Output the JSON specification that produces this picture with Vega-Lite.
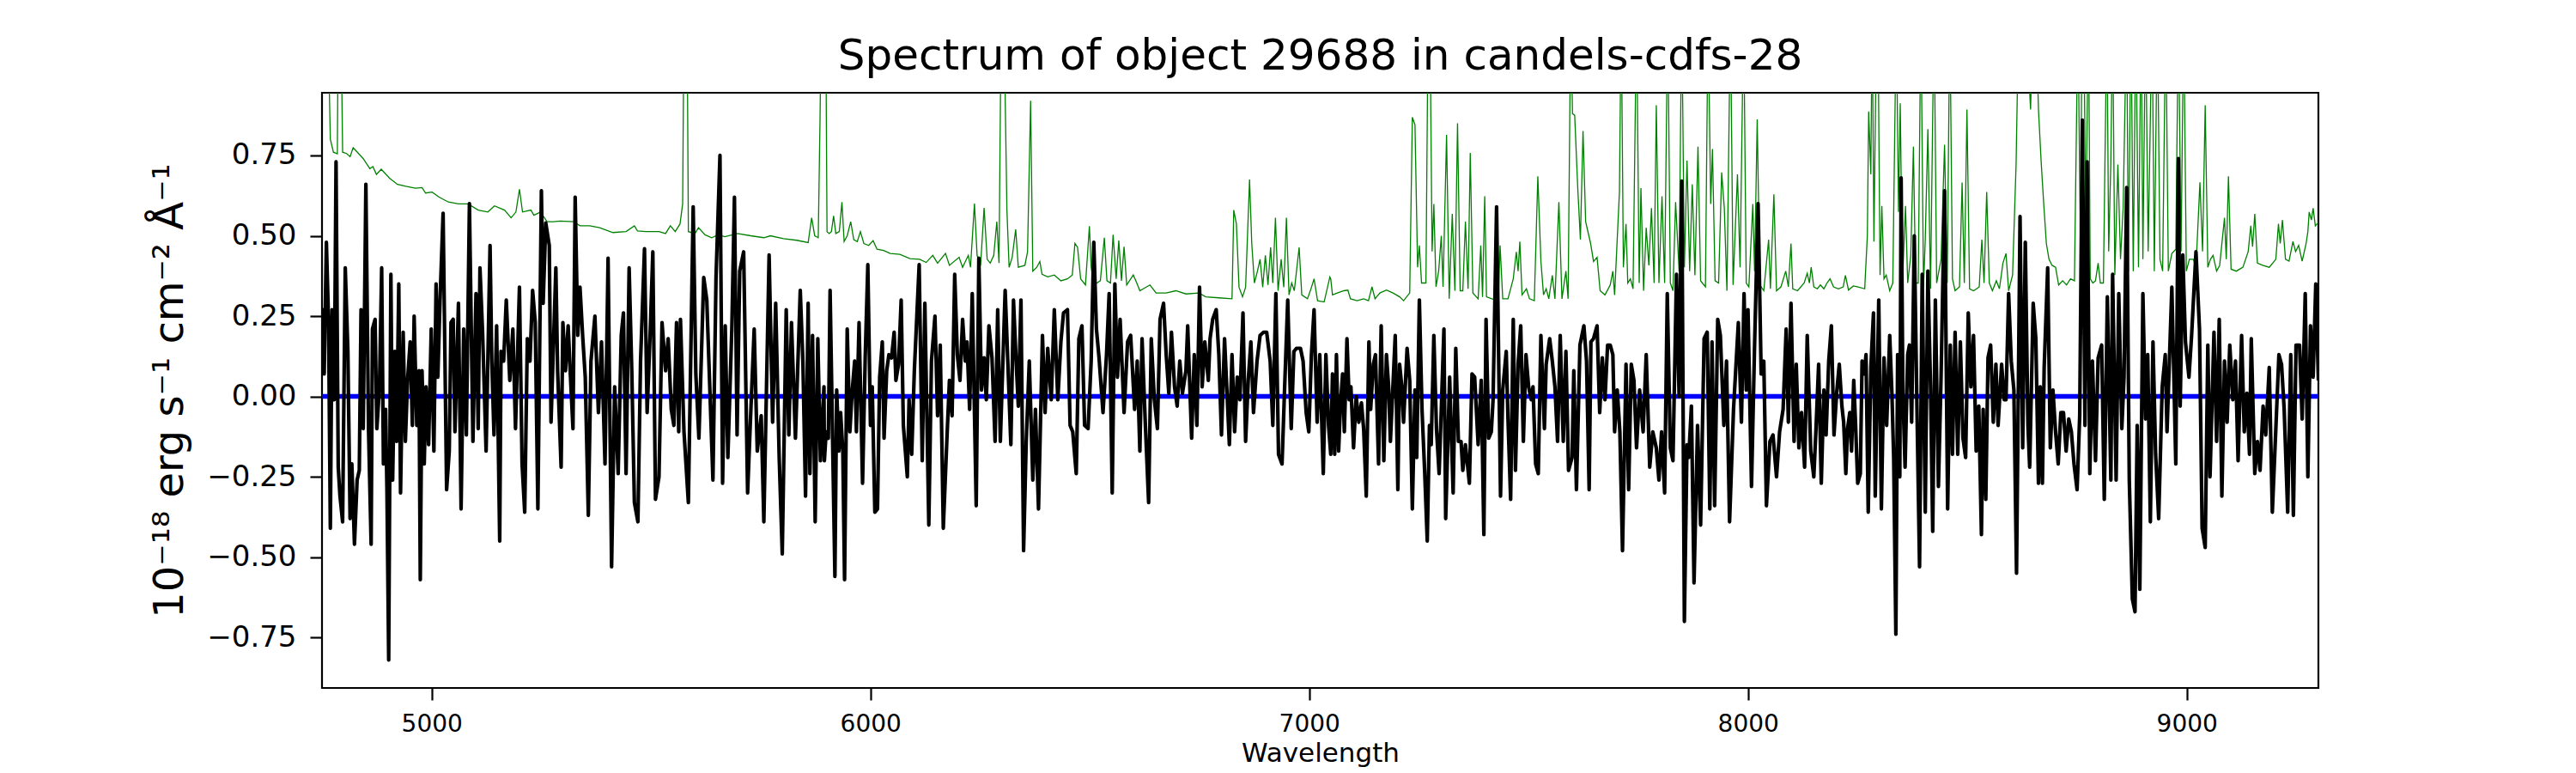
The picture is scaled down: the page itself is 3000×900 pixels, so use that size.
{
  "$schema": "https://vega.github.io/schema/vega-lite/v6.json",
  "width": 2325,
  "height": 693,
  "autosize": {"type": "none"},
  "padding": {"left": 375, "top": 108, "right": 300, "bottom": 99},
  "background": "white",
  "title": {
    "text": "Spectrum of object 29688 in candels-cdfs-28",
    "fontSize": 50,
    "font": "DejaVu Sans",
    "fontWeight": "normal",
    "color": "black",
    "anchor": "middle",
    "frame": "group",
    "baseline": "alphabetic",
    "offset": 25,
    "dy": 48
  },
  "config": {
    "font": "DejaVu Sans",
    "view": {"stroke": "black", "strokeWidth": 2.2},
    "axis": {
      "domain": false,
      "grid": false,
      "ticks": true,
      "tickColor": "black",
      "tickWidth": 2.2,
      "labelColor": "black",
      "titleColor": "black",
      "labelFont": "DejaVu Sans",
      "titleFont": "DejaVu Sans",
      "titleFontWeight": "normal",
      "labelFlush": false,
      "labelOverlap": false
    }
  },
  "datasets": {
    "model": [{"w": 4750, "v": 0}, {"w": 9300, "v": 0}],
    "sky": [
      {"w":4750,"v":1.2},{"w":4763,"v":1.2},{"w":4769,"v":0.80},{"w":4776,"v":0.76},{"w":4785,"v":0.755},{"w":4787,"v":1.2},{"w":4793,"v":1.2},{"w":4797,"v":0.76},{"w":4806,"v":0.756},{"w":4814,"v":0.746},{"w":4821,"v":0.774},{"w":4832,"v":0.758},{"w":4844,"v":0.74},{"w":4859,"v":0.709},{"w":4866,"v":0.715},{"w":4874,"v":0.691},{"w":4885,"v":0.707},{"w":4904,"v":0.679},{"w":4922,"v":0.66},{"w":4941,"v":0.654},{"w":4963,"v":0.648},{"w":4978,"v":0.65},{"w":4986,"v":0.633},{"w":5001,"v":0.636},{"w":5016,"v":0.621},{"w":5038,"v":0.605},{"w":5061,"v":0.599},{"w":5083,"v":0.599},{"w":5106,"v":0.58},{"w":5128,"v":0.574},{"w":5143,"v":0.593},{"w":5166,"v":0.58},{"w":5181,"v":0.556},{"w":5192,"v":0.574},{"w":5200,"v":0.645},{"w":5207,"v":0.574},{"w":5226,"v":0.58},{"w":5233,"v":0.564},{"w":5248,"v":0.574},{"w":5263,"v":0.544},{"w":5278,"v":0.544},{"w":5293,"v":0.546},{"w":5323,"v":0.544},{"w":5338,"v":0.531},{"w":5360,"v":0.531},{"w":5383,"v":0.525},{"w":5413,"v":0.51},{"w":5443,"v":0.513},{"w":5462,"v":0.531},{"w":5469,"v":0.515},{"w":5488,"v":0.513},{"w":5518,"v":0.513},{"w":5533,"v":0.507},{"w":5544,"v":0.531},{"w":5555,"v":0.513},{"w":5566,"v":0.537},{"w":5572,"v":0.60},{"w":5575,"v":1.2},{"w":5582,"v":1.2},{"w":5585,"v":0.513},{"w":5600,"v":0.507},{"w":5608,"v":0.525},{"w":5623,"v":0.503},{"w":5638,"v":0.494},{"w":5653,"v":0.503},{"w":5668,"v":0.497},{"w":5697,"v":0.507},{"w":5727,"v":0.50},{"w":5757,"v":0.494},{"w":5772,"v":0.50},{"w":5802,"v":0.491},{"w":5832,"v":0.486},{"w":5858,"v":0.479},{"w":5866,"v":0.556},{"w":5873,"v":0.50},{"w":5881,"v":0.494},{"w":5885,"v":0.856},{"w":5888,"v":1.2},{"w":5898,"v":1.2},
      {"w":5901,"v":0.513},{"w":5906,"v":0.507},{"w":5911,"v":0.513},{"w":5916,"v":0.562},{"w":5921,"v":0.507},{"w":5929,"v":0.513},{"w":5935,"v":0.605},{"w":5940,"v":0.482},{"w":5947,"v":0.50},{"w":5955,"v":0.544},{"w":5962,"v":0.488},{"w":5970,"v":0.482},{"w":5977,"v":0.513},{"w":5985,"v":0.476},{"w":5996,"v":0.47},{"w":6006,"v":0.485},{"w":6015,"v":0.458},{"w":6030,"v":0.454},{"w":6045,"v":0.445},{"w":6067,"v":0.442},{"w":6090,"v":0.429},{"w":6112,"v":0.427},{"w":6127,"v":0.417},{"w":6142,"v":0.439},{"w":6153,"v":0.415},{"w":6171,"v":0.445},{"w":6180,"v":0.408},{"w":6202,"v":0.433},{"w":6210,"v":0.402},{"w":6223,"v":0.439},{"w":6228,"v":0.402},{"w":6237,"v":0.60},{"w":6243,"v":0.439},{"w":6251,"v":0.408},{"w":6259,"v":0.587},{"w":6266,"v":0.427},{"w":6273,"v":0.415},{"w":6281,"v":0.439},{"w":6288,"v":0.544},{"w":6293,"v":0.415},{"w":6298,"v":1.2},{"w":6304,"v":1.2},{"w":6311,"v":0.58},{"w":6316,"v":0.402},{"w":6323,"v":0.433},{"w":6331,"v":0.52},{"w":6337,"v":0.402},{"w":6352,"v":0.408},{"w":6358,"v":0.45},{"w":6365,"v":0.92},{"w":6370,"v":0.39},{"w":6379,"v":0.402},{"w":6386,"v":0.42},{"w":6391,"v":0.38},{"w":6404,"v":0.372},{"w":6419,"v":0.378},{"w":6434,"v":0.36},{"w":6449,"v":0.366},{"w":6460,"v":0.378},{"w":6466,"v":0.476},{"w":6472,"v":0.464},{"w":6479,"v":0.366},{"w":6490,"v":0.347},{"w":6499,"v":0.53},{"w":6503,"v":0.402},{"w":6509,"v":0.347},{"w":6524,"v":0.36},{"w":6533,"v":0.494},{"w":6539,"v":0.36},{"w":6547,"v":0.353},{"w":6553,"v":0.503},{"w":6560,"v":0.366},{"w":6566,"v":0.485},{"w":6572,"v":0.36},{"w":6578,"v":0.466},{"w":6584,"v":0.347},{"w":6599,"v":0.378},{"w":6607,"v":0.353},{"w":6614,"v":0.329},{"w":6637,"v":0.347},{"w":6651,"v":0.322},{"w":6674,"v":0.322},{"w":6696,"v":0.329},{"w":6719,"v":0.319},{"w":6749,"v":0.322},{"w":6764,"v":0.31},{"w":6794,"v":0.307},{"w":6824,"v":0.304},{"w":6828,"v":0.58},{"w":6834,"v":0.537},{"w":6840,"v":0.34},{"w":6848,"v":0.31},{"w":6855,"v":0.34},{"w":6864,"v":0.675},{"w":6869,"v":0.476},{"w":6875,"v":0.353},{"w":6882,"v":0.39},{"w":6888,"v":0.427},{"w":6894,"v":0.34},{"w":6900,"v":0.439},{"w":6906,"v":0.347},{"w":6912,"v":0.464},{"w":6917,"v":0.353},{"w":6923,"v":0.556},{"w":6929,"v":0.329},{"w":6936,"v":0.427},{"w":6942,"v":0.34},{"w":6948,"v":0.556},{"w":6954,"v":0.316},{"w":6960,"v":0.353},{"w":6966,"v":0.329},{"w":6977,"v":0.464},{"w":6983,"v":0.316},{"w":6996,"v":0.304},{"w":7004,"v":0.335},{"w":7011,"v":0.366},{"w":7019,"v":0.298},{"w":7034,"v":0.294},{"w":7047,"v":0.372},
      {"w":7049,"v":0.366},{"w":7053,"v":0.316},{"w":7064,"v":0.322},{"w":7079,"v":0.329},{"w":7088,"v":0.331},{"w":7094,"v":0.304},{"w":7109,"v":0.298},{"w":7124,"v":0.304},{"w":7135,"v":0.298},{"w":7143,"v":0.341},{"w":7150,"v":0.304},{"w":7161,"v":0.322},{"w":7176,"v":0.331},{"w":7191,"v":0.322},{"w":7206,"v":0.31},{"w":7215,"v":0.298},{"w":7229,"v":0.322},{"w":7235,"v":0.869},{"w":7241,"v":0.845},{"w":7247,"v":0.402},{"w":7251,"v":0.47},{"w":7256,"v":0.353},{"w":7266,"v":0.353},{"w":7271,"v":1.2},{"w":7275,"v":1.2},{"w":7280,"v":0.451},{"w":7284,"v":0.599},{"w":7289,"v":0.341},{"w":7295,"v":0.39},{"w":7301,"v":0.5},{"w":7305,"v":0.341},{"w":7313,"v":0.814},{"w":7319,"v":0.304},{"w":7326,"v":0.568},{"w":7332,"v":0.329},{"w":7338,"v":0.85},{"w":7344,"v":0.329},{"w":7350,"v":0.329},{"w":7356,"v":0.544},{"w":7362,"v":0.335},{"w":7367,"v":0.758},{"w":7373,"v":0.322},{"w":7385,"v":0.304},{"w":7391,"v":0.47},{"w":7395,"v":0.31},{"w":7400,"v":0.623},{"w":7404,"v":0.31},{"w":7416,"v":0.304},{"w":7431,"v":0.298},{"w":7435,"v":0.47},{"w":7441,"v":0.304},{"w":7453,"v":0.304},{"w":7465,"v":0.366},{"w":7472,"v":0.45},{"w":7476,"v":0.39},{"w":7480,"v":0.482},{"w":7485,"v":0.316},{"w":7495,"v":0.335},{"w":7502,"v":0.304},{"w":7513,"v":0.298},{"w":7521,"v":0.685},{"w":7528,"v":0.421},{"w":7534,"v":0.316},{"w":7540,"v":0.335},{"w":7546,"v":0.304},{"w":7554,"v":0.377},{"w":7560,"v":0.304},{"w":7569,"v":0.605},{"w":7576,"v":0.304},{"w":7585,"v":0.39},{"w":7590,"v":0.304},{"w":7596,"v":1.2},{"w":7600,"v":0.88},{"w":7605,"v":0.875},{"w":7612,"v":0.648},{"w":7618,"v":0.488},{"w":7624,"v":0.826},{"w":7630,"v":0.544},{"w":7641,"v":0.478},{"w":7648,"v":0.42},{"w":7656,"v":0.433},{"w":7663,"v":0.329},{"w":7674,"v":0.316},{"w":7686,"v":0.347},{"w":7692,"v":0.39},{"w":7696,"v":0.316},{"w":7707,"v":0.636},{"w":7711,"v":1.2},{"w":7716,"v":0.402},{"w":7722,"v":0.537},{"w":7726,"v":0.353},{"w":7732,"v":0.366},{"w":7738,"v":0.335},{"w":7746,"v":1.2},{"w":7752,"v":0.353},{"w":7756,"v":0.648},{"w":7762,"v":0.329},{"w":7768,"v":0.525},{"w":7774,"v":0.408},{"w":7780,"v":0.586},{"w":7786,"v":0.353},{"w":7791,"v":0.906},{"w":7797,"v":0.353},{"w":7804,"v":0.623},{"w":7810,"v":0.353},{"w":7817,"v":1.2},{"w":7823,"v":0.353},{"w":7829,"v":0.329},{"w":7835,"v":0.605},{"w":7843,"v":0.39},{"w":7849,"v":1.2},{"w":7855,"v":0.402},{"w":7861,"v":0.734},{"w":7867,"v":0.39},{"w":7873,"v":0.66},{"w":7879,"v":0.377},{"w":7886,"v":0.777},{"w":7892,"v":0.36},{"w":7903,"v":0.341},{"w":7909,"v":1.2},{"w":7915,"v":0.599},{"w":7919,"v":0.77},{"w":7925,"v":0.36},{"w":7933,"v":0.353},{"w":7940,"v":0.697},{"w":7946,"v":0.586},{"w":7952,"v":0.329},{"w":7960,"v":1.2},{"w":7966,"v":0.347},{"w":7976,"v":0.691},{"w":7982,"v":0.402},{"w":7990,"v":1.2},{"w":7996,"v":0.353},{"w":8002,"v":0.341},{"w":8011,"v":0.599},{"w":8015,"v":0.39},{"w":8021,"v":0.862},{"w":8027,"v":0.347},{"w":8036,"v":0.329},{"w":8047,"v":0.488},{"w":8051,"v":0.335},{"w":8059,"v":0.629},{"w":8065,"v":0.329},{"w":8075,"v":0.341},{"w":8086,"v":0.39},{"w":8092,"v":0.341},{"w":8098,"v":0.476},{"w":8102,"v":0.335},{"w":8113,"v":0.329},{"w":8128,"v":0.353},{"w":8135,"v":0.383},{"w":8140,"v":0.353},{"w":8144,"v":0.402},{"w":8150,"v":0.341},{"w":8158,"v":0.335},{"w":8165,"v":0.347},{"w":8173,"v":0.335},{"w":8180,"v":0.353},{"w":8187,"v":0.366},{"w":8195,"v":0.341},{"w":8206,"v":0.335},{"w":8217,"v":0.341},{"w":8222,"v":0.377},
      {"w":8229,"v":0.331},{"w":8240,"v":0.344},{"w":8251,"v":0.341},{"w":8266,"v":0.335},{"w":8272,"v":0.50},{"w":8275,"v":0.887},{"w":8280,"v":0.691},{"w":8283,"v":1.2},{"w":8287,"v":0.482},{"w":8293,"v":1.2},{"w":8296,"v":1.2},{"w":8301,"v":0.378},{"w":8305,"v":0.593},{"w":8310,"v":0.366},{"w":8315,"v":0.378},{"w":8323,"v":0.329},{"w":8330,"v":0.353},{"w":8338,"v":1.2},{"w":8343,"v":0.574},{"w":8347,"v":0.912},{"w":8352,"v":0.353},{"w":8359,"v":0.593},{"w":8364,"v":0.353},{"w":8371,"v":0.439},{"w":8377,"v":0.777},{"w":8382,"v":0.353},{"w":8388,"v":0.353},{"w":8394,"v":1.2},{"w":8400,"v":0.341},{"w":8404,"v":0.488},{"w":8410,"v":0.832},{"w":8416,"v":0.335},{"w":8424,"v":1.2},{"w":8430,"v":0.353},{"w":8440,"v":0.427},{"w":8448,"v":0.783},{"w":8454,"v":0.353},{"w":8460,"v":1.2},{"w":8466,"v":0.366},{"w":8472,"v":0.329},{"w":8482,"v":0.341},{"w":8488,"v":0.666},{"w":8493,"v":0.353},{"w":8499,"v":0.893},{"w":8505,"v":0.335},{"w":8514,"v":0.329},{"w":8521,"v":0.335},{"w":8527,"v":0.341},{"w":8533,"v":0.488},{"w":8538,"v":0.353},{"w":8544,"v":0.636},{"w":8550,"v":0.353},{"w":8557,"v":0.329},{"w":8566,"v":0.36},{"w":8573,"v":0.335},{"w":8581,"v":0.415},{"w":8588,"v":0.445},{"w":8594,"v":0.329},{"w":8603,"v":0.378},{"w":8611,"v":0.722},{"w":8617,"v":1.2},{"w":8633,"v":1.2},{"w":8644,"v":0.893},{"w":8650,"v":1.2},{"w":8656,"v":1.2},{"w":8662,"v":0.893},{"w":8668,"v":0.734},{"w":8674,"v":0.599},{"w":8680,"v":0.476},{"w":8686,"v":0.427},{"w":8693,"v":0.408},{"w":8701,"v":0.402},{"w":8708,"v":0.347},{"w":8717,"v":0.36},{"w":8726,"v":0.347},{"w":8735,"v":0.366},{"w":8744,"v":0.36},{"w":8752,"v":1.2},{"w":8758,"v":0.402},{"w":8761,"v":1.2},{"w":8765,"v":1.2},{"w":8770,"v":0.525},{"w":8776,"v":1.2},{"w":8780,"v":0.366},{"w":8786,"v":0.353},{"w":8792,"v":0.36},{"w":8798,"v":0.415},{"w":8803,"v":0.353},{"w":8810,"v":0.353},{"w":8818,"v":1.2},{"w":8822,"v":0.451},{"w":8827,"v":0.734},{"w":8831,"v":1.2},{"w":8836,"v":0.378},{"w":8843,"v":0.722},{"w":8849,"v":0.427},{"w":8855,"v":0.586},{"w":8863,"v":1.2},{"w":8867,"v":0.39},{"w":8873,"v":1.2},{"w":8878,"v":0.39},{"w":8884,"v":1.2},{"w":8890,"v":0.402},{"w":8896,"v":1.2},{"w":8900,"v":0.427},{"w":8906,"v":1.2},{"w":8912,"v":0.451},{"w":8921,"v":1.2},{"w":8926,"v":0.39},{"w":8933,"v":1.2},{"w":8939,"v":0.427},{"w":8945,"v":0.39},{"w":8952,"v":1.2},{"w":8958,"v":0.39},{"w":8966,"v":0.445},{"w":8975,"v":0.458},{"w":8981,"v":1.2},{"w":8987,"v":0.451},{"w":8993,"v":1.2},{"w":8999,"v":0.39},{"w":9006,"v":0.427},{"w":9015,"v":0.427},{"w":9021,"v":0.402},{"w":9030,"v":0.666},{"w":9036,"v":0.451},{"w":9042,"v":0.906},{"w":9048,"v":0.402},{"w":9054,"v":0.427},{"w":9060,"v":0.439},{"w":9068,"v":0.39},{"w":9075,"v":0.408},{"w":9086,"v":0.556},{"w":9090,"v":0.427},{"w":9095,"v":0.685},{"w":9101,"v":0.396},{"w":9113,"v":0.39},{"w":9128,"v":0.402},{"w":9140,"v":0.451},{"w":9146,"v":0.531},{"w":9150,"v":0.466},{"w":9155,"v":0.568},{"w":9161,"v":0.415},{"w":9173,"v":0.408},{"w":9188,"v":0.402},{"w":9203,"v":0.427},{"w":9209,"v":0.537},{"w":9213,"v":0.476},{"w":9218,"v":0.549},{"w":9225,"v":0.427},{"w":9233,"v":0.421},{"w":9242,"v":0.482},{"w":9248,"v":0.451},{"w":9255,"v":0.47},{"w":9263,"v":0.421},{"w":9272,"v":0.476},{"w":9276,"v":0.513},{"w":9279,"v":0.574},{"w":9284,"v":0.549},{"w":9288,"v":0.586},{"w":9293,"v":0.531},{"w":9297,"v":0.537},{"w":9300,"v":0.54}
    ],
    "flux": [
      {"w":4750,"v":0.07},{"w":4752,"v":0.27},{"w":4755,"v":0.07},{"w":4760,"v":0.48},{"w":4765,"v":0.23},{"w":4769,"v":-0.41},{"w":4773,"v":0.27},{"w":4778,"v":-0.01},{"w":4782,"v":0.73},{"w":4787,"v":-0.22},{"w":4791,"v":-0.31},{"w":4797,"v":-0.39},{"w":4803,"v":0.40},{"w":4809,"v":0.14},{"w":4814,"v":-0.38},{"w":4818,"v":-0.21},{"w":4824,"v":-0.46},{"w":4830,"v":-0.26},{"w":4835,"v":-0.23},{"w":4839,"v":0.27},{"w":4844,"v":-0.10},{"w":4850,"v":0.66},{"w":4856,"v":-0.10},{"w":4862,"v":-0.46},{"w":4865,"v":0.21},{"w":4871,"v":0.24},{"w":4875,"v":-0.10},{"w":4881,"v":0.03},{"w":4886,"v":0.40},{"w":4890,"v":-0.21},{"w":4895,"v":-0.04},{"w":4898,"v":-0.29},{"w":4902,"v":-0.82},{"w":4907,"v":0.38},{"w":4911,"v":-0.26},{"w":4916,"v":0.14},{"w":4920,"v":-0.14},{"w":4925,"v":0.35},{"w":4929,"v":-0.30},{"w":4935,"v":0.20},{"w":4940,"v":-0.14},{"w":4945,"v":0.05},{"w":4951,"v":0.17},{"w":4956,"v":-0.09},{"w":4960,"v":0.25},{"w":4966,"v":-0.09},{"w":4971,"v":0.08},{"w":4974,"v":-0.57},{"w":4978,"v":0.08},{"w":4983,"v":-0.21},{"w":4987,"v":0.03},{"w":4993,"v":-0.15},{"w":4999,"v":0.21},{"w":5005,"v":-0.17},{"w":5010,"v":0.35},{"w":5014,"v":0.06},{"w":5019,"v":0.30},{"w":5026,"v":0.57},{"w":5034,"v":-0.29},{"w":5040,"v":-0.17},{"w":5044,"v":0.23},{"w":5049,"v":0.24},{"w":5053,"v":-0.11},{"w":5061,"v":0.29},{"w":5067,"v":-0.35},{"w":5073,"v":0.21},{"w":5079,"v":-0.12},{"w":5086,"v":0.60},{"w":5094,"v":-0.14},{"w":5101,"v":0.32},{"w":5106,"v":-0.10},{"w":5110,"v":0.40},{"w":5116,"v":0.20},{"w":5124,"v":-0.17},{"w":5133,"v":0.47},{"w":5137,"v":0.11},{"w":5142,"v":-0.12},{"w":5148,"v":0.22},{"w":5155,"v":-0.45},{"w":5158,"v":0.14},{"w":5164,"v":0.11},{"w":5170,"v":0.30},{"w":5178,"v":0.05},{"w":5185,"v":0.21},{"w":5191,"v":-0.10},{"w":5200,"v":0.34},{"w":5206,"v":-0.21},{"w":5212,"v":-0.36},{"w":5218,"v":0.18},{"w":5224,"v":0.11},{"w":5230,"v":0.33},{"w":5236,"v":0.23},{"w":5242,"v":-0.35},{"w":5250,"v":0.64},{"w":5254,"v":0.29},{"w":5260,"v":0.54},{"w":5268,"v":0.47},{"w":5272,"v":-0.08},{"w":5283,"v":0.40},{"w":5287,"v":0.08},{"w":5295,"v":-0.22},{"w":5299,"v":0.23},{"w":5305,"v":0.08},{"w":5311,"v":0.22},{"w":5316,"v":0.07},{"w":5322,"v":-0.10},{"w":5327,"v":0.62},{"w":5333,"v":0.19},{"w":5338,"v":0.34},{"w":5344,"v":0.19},{"w":5350,"v":0.06},{"w":5357,"v":-0.37},{"w":5363,"v":0.11},{"w":5372,"v":0.25},{"w":5380,"v":-0.05},{"w":5387,"v":0.17},{"w":5395,"v":-0.21},{"w":5402,"v":0.43},{"w":5410,"v":-0.53},{"w":5417,"v":0.03},{"w":5425,"v":-0.24},{"w":5432,"v":0.19},{"w":5437,"v":0.26},{"w":5443,"v":-0.24},{"w":5450,"v":0.40},{"w":5456,"v":0.08},{"w":5462,"v":-0.33},{"w":5470,"v":-0.39},{"w":5476,"v":0.11},{"w":5485,"v":0.46},{"w":5491,"v":-0.05},{"w":5498,"v":0.20},{"w":5504,"v":0.45},{"w":5510,"v":-0.32},{"w":5518,"v":-0.25},{"w":5525,"v":0.23},{"w":5533,"v":0.08},{"w":5539,"v":0.18},{"w":5546,"v":-0.04},{"w":5552,"v":-0.09},{"w":5558,"v":0.23},{"w":5563,"v":-0.11},{"w":5567,"v":0.24},{"w":5575,"v":-0.11},{"w":5585,"v":-0.33},{"w":5596,"v":0.59},{"w":5602,"v":0.07},{"w":5609,"v":-0.13},{"w":5620,"v":0.37},{"w":5627,"v":0.30},{"w":5633,"v":0.06},{"w":5641,"v":-0.26},{"w":5648,"v":0.37},{"w":5657,"v":0.75},{"w":5663,"v":-0.27},{"w":5669,"v":0.22},{"w":5675,"v":-0.19},{"w":5684,"v":0.21},{"w":5690,"v":0.62},{"w":5696,"v":-0.12},{"w":5702,"v":0.39},{"w":5711,"v":0.45},{"w":5720,"v":-0.30},{"w":5726,"v":-0.09},{"w":5735,"v":0.21},{"w":5742,"v":-0.17},{"w":5751,"v":-0.06},{"w":5757,"v":-0.39},{"w":5769,"v":0.44},{"w":5777,"v":-0.08},{"w":5784,"v":0.29},{"w":5792,"v":-0.19},{"w":5799,"v":-0.49},{"w":5808,"v":0.27},{"w":5814,"v":-0.12},{"w":5820,"v":0.23},{"w":5829,"v":-0.13},{"w":5840,"v":0.33},{"w":5846,"v":0.11},{"w":5852,"v":-0.31},{"w":5858,"v":0.29},{"w":5862,"v":-0.24},{"w":5868,"v":0.19},{"w":5874,"v":-0.39},{"w":5880,"v":0.18},{"w":5886,"v":-0.20},{"w":5894,"v":0.03},
      {"w":5895,"v":-0.20},{"w":5899,"v":-0.11},{"w":5904,"v":-0.13},{"w":5908,"v":0.33},{"w":5914,"v":-0.16},{"w":5919,"v":-0.56},{"w":5923,"v":0.02},{"w":5928,"v":-0.17},{"w":5932,"v":-0.05},{"w":5937,"v":-0.17},{"w":5941,"v":-0.57},{"w":5947,"v":0.21},{"w":5953,"v":-0.11},{"w":5958,"v":0.01},{"w":5964,"v":0.11},{"w":5968,"v":-0.11},{"w":5974,"v":0.23},{"w":5982,"v":-0.27},{"w":5988,"v":0.12},{"w":5994,"v":0.41},{"w":6000,"v":-0.09},{"w":6004,"v":0.03},{"w":6010,"v":-0.36},{"w":6016,"v":-0.35},{"w":6021,"v":0.06},{"w":6027,"v":0.17},{"w":6031,"v":-0.13},{"w":6037,"v":0.08},{"w":6042,"v":0.13},{"w":6048,"v":0.12},{"w":6054,"v":0.20},{"w":6058,"v":0.05},{"w":6064,"v":0.10},{"w":6070,"v":0.30},{"w":6075,"v":-0.09},{"w":6084,"v":-0.25},{"w":6088,"v":-0.01},{"w":6094,"v":-0.18},{"w":6100,"v":0.08},{"w":6111,"v":0.41},{"w":6118,"v":-0.20},{"w":6124,"v":0.29},{"w":6133,"v":-0.40},{"w":6139,"v":0.11},{"w":6147,"v":0.25},{"w":6153,"v":-0.06},{"w":6159,"v":0.16},{"w":6166,"v":-0.41},{"w":6174,"v":-0.14},{"w":6180,"v":0.05},{"w":6186,"v":-0.06},{"w":6192,"v":0.38},{"w":6198,"v":0.13},{"w":6204,"v":0.05},{"w":6210,"v":0.24},{"w":6216,"v":0.11},{"w":6220,"v":0.17},{"w":6226,"v":-0.04},{"w":6232,"v":0.32},{"w":6241,"v":-0.34},{"w":6247,"v":0.43},{"w":6253,"v":0.02},{"w":6259,"v":0.12},{"w":6264,"v":-0.01},{"w":6270,"v":0.22},{"w":6277,"v":0.12},{"w":6284,"v":-0.14},{"w":6290,"v":0.27},{"w":6296,"v":-0.14},{"w":6307,"v":0.33},{"w":6313,"v":0.11},{"w":6320,"v":-0.15},{"w":6326,"v":0.30},{"w":6332,"v":0.11},{"w":6337,"v":-0.03},{"w":6343,"v":0.30},{"w":6349,"v":-0.48},{"w":6355,"v":-0.14},{"w":6362,"v":0.11},{"w":6370,"v":-0.26},{"w":6376,"v":-0.04},{"w":6383,"v":-0.35},{"w":6392,"v":0.19},{"w":6398,"v":-0.05},{"w":6404,"v":0.15},{"w":6412,"v":-0.01},{"w":6419,"v":0.27},{"w":6427,"v":-0.01},{"w":6434,"v":0.17},{"w":6440,"v":0.26},{"w":6449,"v":0.27},{"w":6455,"v":-0.09},{"w":6461,"v":-0.11},{"w":6469,"v":-0.24},{"w":6475,"v":0.18},{"w":6482,"v":0.22},{"w":6488,"v":-0.09},{"w":6496,"v":-0.10},{"w":6503,"v":0.11},{"w":6509,"v":0.48},{"w":6515,"v":0.21},{"w":6521,"v":0.12},{"w":6530,"v":-0.05},{"w":6538,"v":0.13},{"w":6544,"v":0.32},{"w":6551,"v":-0.30},{"w":6557,"v":0.35},{"w":6563,"v":0.06},{"w":6569,"v":0.24},{"w":6578,"v":-0.05},{"w":6586,"v":0.17},{"w":6593,"v":0.19},{"w":6602,"v":-0.04},{"w":6608,"v":0.11},{"w":6614,"v":-0.17},{"w":6619,"v":0.18},{"w":6626,"v":-0.07},{"w":6634,"v":-0.33},{"w":6640,"v":0.18},{"w":6647,"v":-0.01},{"w":6654,"v":-0.10},{"w":6660,"v":0.24},{"w":6668,"v":0.29},{"w":6674,"v":0.13},{"w":6680,"v":0.01},{"w":6686,"v":0.20},{"w":6693,"v":0.03},{"w":6699,"v":-0.03},{"w":6705,"v":0.11},{"w":6711,"v":0.01},{"w":6719,"v":0.08},{"w":6723,"v":0.22},{"w":6732,"v":-0.13},{"w":6738,"v":0.13},{"w":6744,"v":-0.09},{"w":6750,"v":0.34},{"w":6756,"v":0.03},{"w":6762,"v":0.17},{"w":6770,"v":0.05},{"w":6774,"v":0.18},{"w":6780,"v":0.24},{"w":6788,"v":0.27},{"w":6794,"v":0.13},{"w":6800,"v":-0.12},{"w":6807,"v":0.18},{"w":6813,"v":0.00},{"w":6818,"v":-0.15},{"w":6824,"v":0.13},{"w":6830,"v":-0.11},{"w":6836,"v":0.06},{"w":6842,"v":-0.01},{"w":6849,"v":0.26},{"w":6855,"v":-0.14},{"w":6861,"v":0.05},{"w":6867,"v":0.17},{"w":6873,"v":-0.05},{"w":6881,"v":0.11},{"w":6888,"v":0.19},{"w":6896,"v":0.20},{"w":6903,"v":0.20},{"w":6911,"v":0.11},{"w":6917,"v":-0.09},{"w":6924,"v":0.32},{"w":6930,"v":-0.18},{"w":6938,"v":-0.21},{"w":6944,"v":0.03},{"w":6951,"v":0.30},{"w":6959,"v":-0.10},{"w":6965,"v":0.14},{"w":6971,"v":0.15},{"w":6980,"v":0.15},{"w":6986,"v":0.11},{"w":6993,"v":-0.05},{"w":6999,"v":-0.11},{"w":7005,"v":0.13},{"w":7011,"v":0.27},{"w":7018,"v":-0.08},{"w":7024,"v":0.13},{"w":7032,"v":-0.24},{"w":7038,"v":0.13},{"w":7044,"v":-0.09},
      {"w":7049,"v":-0.18},{"w":7053,"v":0.07},{"w":7058,"v":-0.18},{"w":7062,"v":0.13},{"w":7067,"v":-0.17},{"w":7071,"v":-0.03},{"w":7076,"v":0.07},{"w":7080,"v":-0.11},{"w":7086,"v":0.18},{"w":7091,"v":-0.01},{"w":7095,"v":0.03},{"w":7101,"v":-0.16},{"w":7107,"v":0.00},{"w":7113,"v":-0.08},{"w":7119,"v":-0.02},{"w":7124,"v":-0.10},{"w":7130,"v":-0.31},{"w":7136,"v":0.17},{"w":7140,"v":-0.04},{"w":7146,"v":0.10},{"w":7151,"v":0.13},{"w":7158,"v":-0.21},{"w":7164,"v":0.22},{"w":7170,"v":-0.20},{"w":7176,"v":0.13},{"w":7181,"v":0.03},{"w":7185,"v":-0.14},{"w":7196,"v":0.19},{"w":7202,"v":-0.29},{"w":7206,"v":0.10},{"w":7211,"v":0.03},{"w":7215,"v":-0.08},{"w":7223,"v":0.15},{"w":7229,"v":0.05},{"w":7235,"v":-0.35},{"w":7241,"v":0.02},{"w":7245,"v":-0.19},{"w":7251,"v":0.30},{"w":7257,"v":-0.04},{"w":7263,"v":-0.23},{"w":7269,"v":-0.45},{"w":7274,"v":-0.09},{"w":7278,"v":-0.15},{"w":7284,"v":0.19},{"w":7290,"v":-0.10},{"w":7296,"v":-0.24},{"w":7301,"v":-0.04},{"w":7307,"v":0.21},{"w":7311,"v":-0.38},{"w":7320,"v":0.06},{"w":7328,"v":-0.30},{"w":7334,"v":0.15},{"w":7340,"v":-0.14},{"w":7346,"v":-0.14},{"w":7350,"v":-0.23},{"w":7356,"v":-0.15},{"w":7365,"v":-0.27},{"w":7371,"v":0.07},{"w":7377,"v":0.06},{"w":7385,"v":-0.15},{"w":7392,"v":0.05},{"w":7398,"v":-0.43},{"w":7403,"v":0.24},{"w":7409,"v":-0.13},{"w":7415,"v":-0.11},{"w":7419,"v":-0.01},{"w":7427,"v":0.59},{"w":7436,"v":-0.31},{"w":7441,"v":0.02},{"w":7449,"v":0.14},{"w":7453,"v":-0.07},{"w":7459,"v":-0.32},{"w":7465,"v":0.24},{"w":7470,"v":-0.23},{"w":7476,"v":0.10},{"w":7482,"v":0.22},{"w":7488,"v":-0.14},{"w":7494,"v":0.13},{"w":7500,"v":0.03},{"w":7506,"v":-0.01},{"w":7510,"v":0.03},{"w":7516,"v":-0.21},{"w":7522,"v":-0.24},{"w":7528,"v":0.19},{"w":7536,"v":-0.10},{"w":7540,"v":0.10},{"w":7548,"v":0.18},{"w":7554,"v":0.11},{"w":7560,"v":0.03},{"w":7566,"v":-0.14},{"w":7572,"v":0.19},{"w":7579,"v":-0.14},{"w":7585,"v":0.14},{"w":7591,"v":-0.23},{"w":7599,"v":-0.19},{"w":7603,"v":0.08},{"w":7609,"v":-0.29},{"w":7617,"v":0.16},{"w":7626,"v":0.22},{"w":7632,"v":0.11},{"w":7638,"v":-0.29},{"w":7642,"v":0.17},{"w":7648,"v":0.18},{"w":7656,"v":0.22},{"w":7662,"v":-0.05},{"w":7668,"v":0.12},{"w":7674,"v":-0.01},{"w":7680,"v":0.16},{"w":7686,"v":0.16},{"w":7692,"v":0.13},{"w":7696,"v":-0.11},{"w":7702,"v":0.02},{"w":7708,"v":-0.11},{"w":7714,"v":-0.48},{"w":7722,"v":0.10},{"w":7728,"v":-0.29},{"w":7734,"v":0.10},{"w":7740,"v":0.05},{"w":7746,"v":-0.16},{"w":7753,"v":0.02},{"w":7761,"v":-0.11},{"w":7768,"v":0.13},{"w":7776,"v":-0.22},{"w":7783,"v":-0.11},{"w":7791,"v":-0.16},{"w":7797,"v":-0.26},{"w":7803,"v":-0.11},{"w":7810,"v":-0.30},{"w":7816,"v":0.32},{"w":7823,"v":-0.16},{"w":7829,"v":-0.20},{"w":7837,"v":0.38},{"w":7843,"v":0.00},{"w":7849,"v":0.67},{"w":7855,"v":-0.70},{"w":7861,"v":-0.15},{"w":7865,"v":-0.19},{"w":7871,"v":-0.03},{"w":7877,"v":-0.58},{"w":7885,"v":-0.09},{"w":7892,"v":-0.40},{"w":7900,"v":0.18},{"w":7907,"v":0.20},{"w":7913,"v":-0.35},{"w":7918,"v":0.17},{"w":7924,"v":-0.34},{"w":7931,"v":0.24},{"w":7937,"v":0.19},{"w":7945,"v":-0.09},{"w":7951,"v":0.11},{"w":7958,"v":-0.39},{"w":7967,"v":-0.04},{"w":7978,"v":0.23},{"w":7985,"v":-0.08},{"w":7991,"v":0.32},{"w":7996,"v":0.02},{"w":8000,"v":0.27},{"w":8008,"v":-0.28},{"w":8015,"v":0.16},{"w":8023,"v":0.60},{"w":8030,"v":0.07},{"w":8036,"v":0.11},{"w":8042,"v":-0.34},{"w":8050,"v":-0.14},{"w":8057,"v":-0.12},{"w":8065,"v":-0.25},{"w":8072,"v":-0.11},{"w":8080,"v":-0.04},{"w":8087,"v":0.21},{"w":8092,"v":-0.08},{"w":8098,"v":0.29},{"w":8105,"v":-0.14},{"w":8110,"v":0.10},{"w":8116,"v":-0.16},{"w":8122,"v":-0.05},{"w":8129,"v":-0.22},{"w":8135,"v":0.19},{"w":8143,"v":-0.17},{"w":8150,"v":-0.25},{"w":8155,"v":-0.10},{"w":8161,"v":0.10},{"w":8167,"v":-0.27},{"w":8173,"v":0.02},{"w":8178,"v":-0.12},{"w":8184,"v":0.11},{"w":8190,"v":0.22},{"w":8196,"v":-0.12},{"w":8202,"v":0.01},{"w":8208,"v":0.10},{"w":8214,"v":-0.03},
      {"w":8218,"v":-0.08},{"w":8223,"v":-0.24},{"w":8227,"v":-0.10},{"w":8232,"v":-0.05},{"w":8236,"v":-0.17},{"w":8241,"v":0.05},{"w":8245,"v":-0.08},{"w":8250,"v":-0.27},{"w":8256,"v":-0.24},{"w":8260,"v":0.11},{"w":8265,"v":0.07},{"w":8269,"v":0.13},{"w":8274,"v":-0.36},{"w":8280,"v":0.09},{"w":8286,"v":0.26},{"w":8290,"v":-0.31},{"w":8298,"v":0.30},{"w":8304,"v":-0.35},{"w":8310,"v":0.12},{"w":8316,"v":-0.09},{"w":8323,"v":0.19},{"w":8328,"v":0.01},{"w":8332,"v":-0.19},{"w":8337,"v":-0.74},{"w":8341,"v":0.13},{"w":8346,"v":-0.25},{"w":8349,"v":0.68},{"w":8353,"v":0.01},{"w":8358,"v":-0.22},{"w":8364,"v":0.13},{"w":8368,"v":0.16},{"w":8373,"v":-0.08},{"w":8379,"v":0.50},{"w":8385,"v":-0.03},{"w":8391,"v":-0.53},{"w":8397,"v":0.38},{"w":8404,"v":-0.36},{"w":8410,"v":0.39},{"w":8416,"v":0.03},{"w":8421,"v":-0.42},{"w":8427,"v":0.30},{"w":8434,"v":-0.28},{"w":8440,"v":0.06},{"w":8448,"v":0.64},{"w":8455,"v":-0.35},{"w":8461,"v":0.16},{"w":8466,"v":-0.18},{"w":8472,"v":0.20},{"w":8478,"v":-0.18},{"w":8484,"v":0.17},{"w":8490,"v":-0.13},{"w":8496,"v":-0.19},{"w":8502,"v":0.26},{"w":8508,"v":0.03},{"w":8514,"v":0.19},{"w":8520,"v":-0.17},{"w":8526,"v":-0.03},{"w":8532,"v":-0.43},{"w":8536,"v":-0.04},{"w":8542,"v":-0.32},{"w":8547,"v":0.12},{"w":8553,"v":0.16},{"w":8559,"v":-0.08},{"w":8565,"v":0.10},{"w":8570,"v":-0.09},{"w":8578,"v":0.10},{"w":8584,"v":-0.01},{"w":8588,"v":-0.01},{"w":8594,"v":0.32},{"w":8600,"v":0.11},{"w":8606,"v":0.02},{"w":8612,"v":-0.55},{"w":8620,"v":0.56},{"w":8626,"v":-0.16},{"w":8632,"v":0.48},{"w":8638,"v":-0.09},{"w":8642,"v":-0.22},{"w":8650,"v":0.29},{"w":8656,"v":0.18},{"w":8662,"v":-0.27},{"w":8666,"v":0.03},{"w":8671,"v":-0.27},{"w":8675,"v":0.09},{"w":8683,"v":0.40},{"w":8689,"v":-0.16},{"w":8695,"v":0.02},{"w":8701,"v":-0.11},{"w":8707,"v":-0.21},{"w":8713,"v":-0.05},{"w":8719,"v":-0.05},{"w":8725,"v":-0.17},{"w":8731,"v":-0.07},{"w":8737,"v":-0.11},{"w":8743,"v":-0.21},{"w":8750,"v":-0.29},{"w":8756,"v":-0.06},{"w":8762,"v":0.86},{"w":8768,"v":-0.09},{"w":8773,"v":0.73},{"w":8779,"v":-0.24},{"w":8785,"v":0.11},{"w":8792,"v":-0.20},{"w":8798,"v":0.12},{"w":8806,"v":0.16},{"w":8812,"v":-0.32},{"w":8819,"v":0.31},{"w":8827,"v":-0.26},{"w":8831,"v":0.38},{"w":8839,"v":-0.26},{"w":8845,"v":0.32},{"w":8852,"v":-0.10},{"w":8857,"v":0.06},{"w":8863,"v":0.65},{"w":8869,"v":-0.26},{"w":8876,"v":-0.63},{"w":8882,"v":-0.67},{"w":8887,"v":-0.09},{"w":8893,"v":-0.60},{"w":8900,"v":0.32},{"w":8906,"v":-0.07},{"w":8911,"v":0.13},{"w":8917,"v":-0.39},{"w":8923,"v":0.17},{"w":8929,"v":-0.18},{"w":8936,"v":-0.38},{"w":8944,"v":0.03},{"w":8951,"v":0.13},{"w":8955,"v":-0.11},{"w":8966,"v":0.34},{"w":8975,"v":-0.21},{"w":8981,"v":0.74},{"w":8985,"v":-0.03},{"w":8991,"v":0.44},{"w":8997,"v":0.17},{"w":9005,"v":0.06},{"w":9011,"v":0.19},{"w":9021,"v":0.45},{"w":9029,"v":0.21},{"w":9035,"v":-0.41},{"w":9042,"v":-0.47},{"w":9048,"v":0.16},{"w":9053,"v":-0.25},{"w":9062,"v":0.20},{"w":9068,"v":-0.14},{"w":9074,"v":0.24},{"w":9080,"v":-0.31},{"w":9086,"v":0.11},{"w":9092,"v":-0.08},{"w":9098,"v":0.16},{"w":9105,"v":-0.01},{"w":9111,"v":0.11},{"w":9117,"v":-0.20},{"w":9125,"v":0.19},{"w":9131,"v":-0.11},{"w":9137,"v":0.01},{"w":9143,"v":-0.18},{"w":9147,"v":0.18},{"w":9155,"v":-0.24},{"w":9161,"v":-0.14},{"w":9167,"v":-0.23},{"w":9174,"v":-0.03},{"w":9180,"v":-0.12},{"w":9188,"v":0.09},{"w":9195,"v":-0.36},{"w":9203,"v":-0.10},{"w":9210,"v":0.13},{"w":9216,"v":0.10},{"w":9222,"v":-0.04},{"w":9230,"v":-0.36},{"w":9237,"v":0.13},{"w":9243,"v":-0.37},{"w":9249,"v":0.16},{"w":9257,"v":0.16},{"w":9263,"v":-0.07},{"w":9270,"v":0.32},{"w":9276,"v":-0.25},{"w":9282,"v":0.22},{"w":9288,"v":0.06},{"w":9294,"v":0.35},{"w":9300,"v":0.05}
    ]
  },
  "encoding": {
    "x": {
      "field": "w",
      "type": "quantitative",
      "scale": {"domain": [4750, 9300], "nice": false, "zero": false},
      "axis": {
        "title": "Wavelength",
        "values": [5000, 6000, 7000, 8000, 9000],
        "format": "d",
        "labelFontSize": 28,
        "tickSize": 14,
        "labelPadding": 14,
        "titleFontSize": 31,
        "titleX": 1162.5,
        "titleY": 85,
        "titleAlign": "center",
        "titleBaseline": "alphabetic"
      }
    },
    "y": {
      "field": "v",
      "type": "quantitative",
      "scale": {"domain": [-0.907, 0.945], "nice": false, "zero": false},
      "axis": {
        "title": "10⁻¹⁸ erg s⁻¹ cm⁻² Å⁻¹",
        "values": [-0.75, -0.5, -0.25, 0, 0.25, 0.5, 0.75],
        "format": ".2f",
        "labelFontSize": 34,
        "tickSize": 14,
        "labelPadding": 16,
        "titleFontSize": 48,
        "titleAngle": 270,
        "titleX": -163,
        "titleY": 346.5,
        "titleAlign": "center",
        "titleBaseline": "alphabetic"
      }
    }
  },
  "layer": [
    {
      "data": {"name": "sky"},
      "mark": {"type": "line", "color": "#008000", "strokeWidth": 1.3, "clip": true},
      "encoding": {}
    },
    {
      "data": {"name": "model"},
      "mark": {"type": "line", "color": "#0000ff", "strokeWidth": 5.5, "clip": true},
      "encoding": {}
    },
    {
      "data": {"name": "flux"},
      "mark": {"type": "line", "color": "#000000", "strokeWidth": 4.2, "strokeJoin": "round", "clip": true},
      "encoding": {}
    }
  ]
}
